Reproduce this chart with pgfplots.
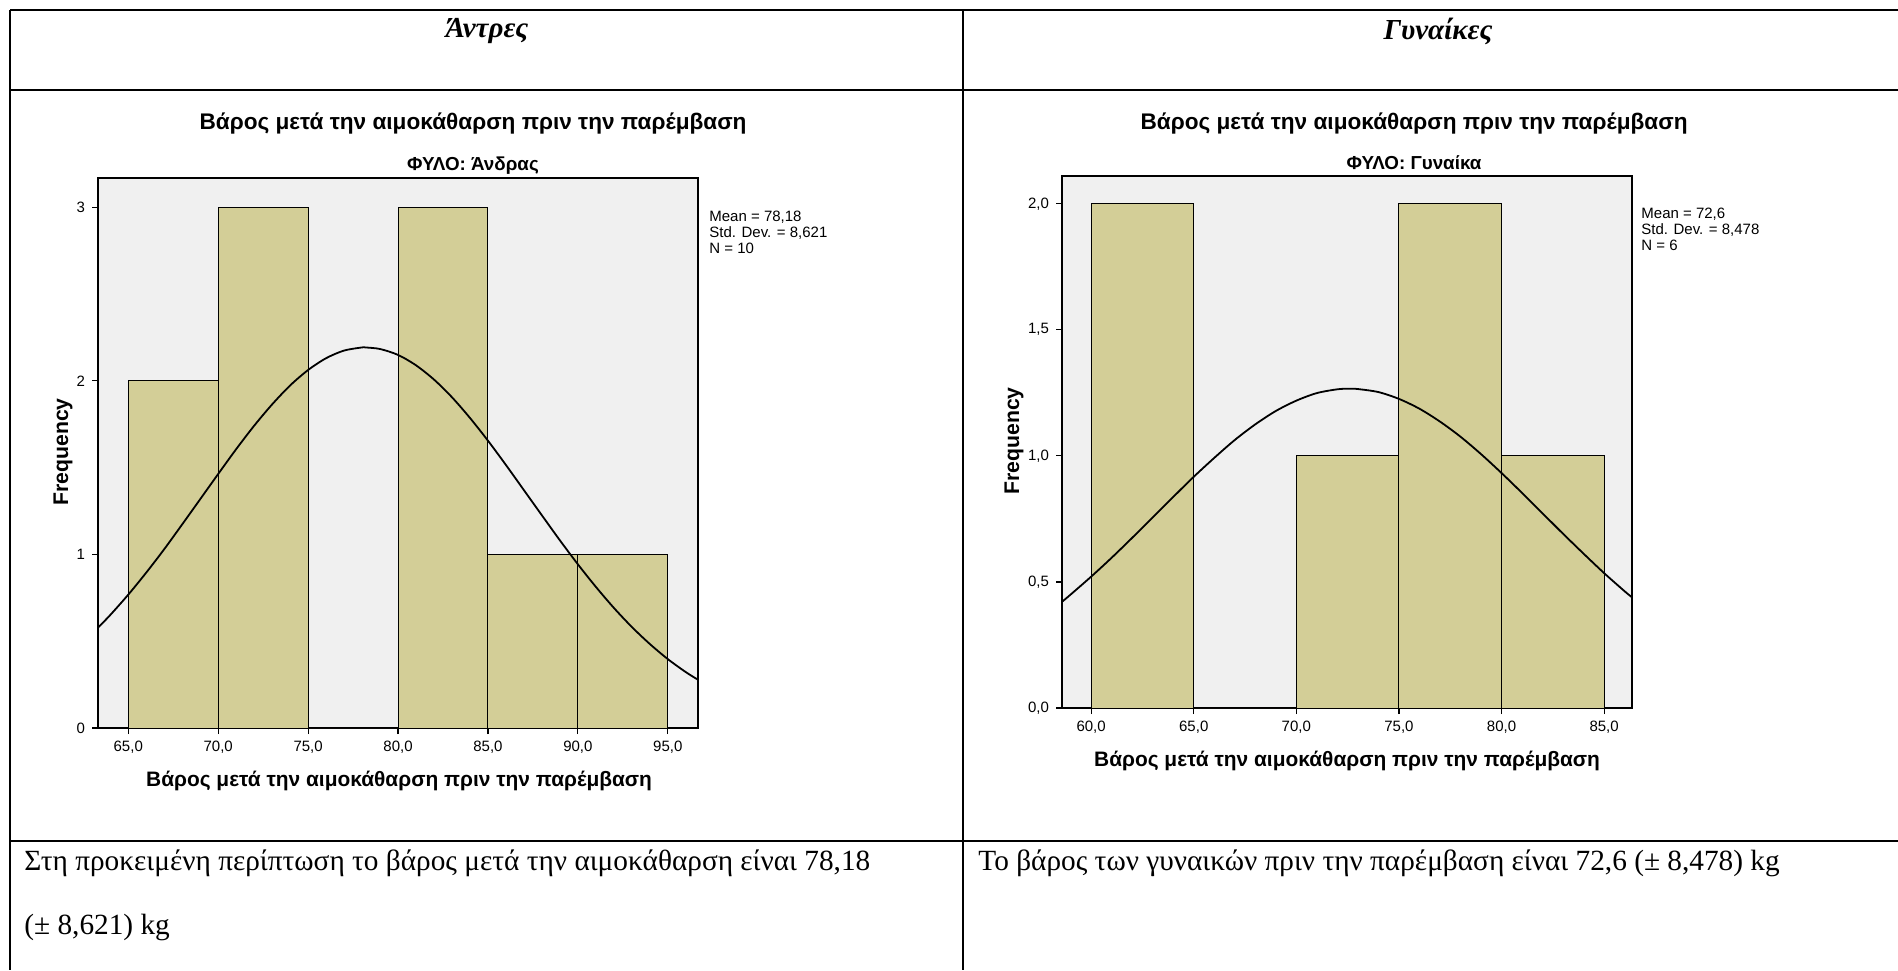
\documentclass[border=0pt]{standalone}
\usepackage{fontspec}
\setmainfont{Liberation Serif}
\setsansfont{Liberation Sans}
\usepackage{pgfplots}
\pgfplotsset{compat=1.18}

\definecolor{plotbg}{RGB}{240,240,240}
\definecolor{barfill}{RGB}{211,206,151}

% page coordinates: 1 unit = 0.5pt, origin top left, y downwards
\newcommand{\px}[2]{({#1*0.5pt},{(970-#2)*0.5pt})}
\newcommand{\fs}[1]{\fontsize{#1}{#1}\selectfont}

\pgfplotsset{
  histo/.style={
    scale only axis, anchor=south west,
    axis background/.style={fill=plotbg},
    tick align=outside, tick pos=left,
    major tick length=3pt,
    axis line style={black, line width=0.6pt},
    every tick/.style={black, line width=0.6pt},
    tick label style={font=\sffamily\fs{7.5}},
    ymin=0,
  },
  bars/.style={ybar interval, fill=barfill, draw=black, line width=0.5pt},
  fit/.style={smooth, black, line width=0.9pt},
}

\begin{document}
\begin{tikzpicture}
\path[use as bounding box] (0,0) rectangle (949pt,485pt);

% table grid
\begin{scope}[line width=1pt]
\draw \px{10}{10} -- \px{1898}{10};
\draw \px{10}{90} -- \px{1898}{90};
\draw \px{10}{841} -- \px{1898}{841};
\draw \px{10}{10} -- \px{10}{970};
\draw \px{963}{10} -- \px{963}{970};
\end{scope}

\node[font=\bfseries\itshape\fs{14.5}] at \px{487}{31} {Άντρες};
\node[font=\bfseries\itshape\fs{14.5}] at \px{1438}{31} {Γυναίκες};

\node[anchor=west, font=\fs{14.65}, inner sep=0pt] at \px{24}{863}
  {Στη προκειμένη περίπτωση το βάρος μετά την αιμοκάθαρση είναι 78,18};
\node[anchor=west, font=\fs{14.65}, inner sep=0pt] at \px{24}{927}
  {(± 8,621) kg};
\node[anchor=west, font=\fs{14.65}, inner sep=0pt] at \px{978}{863}
  {Το βάρος των γυναικών πριν την παρέμβαση είναι 72,6 (± 8,478) kg};

% ---- men ----
\begin{axis}[histo, at={(49pt,121pt)}, width=300pt, height=275pt,
  xmin=63.318, xmax=96.68, ymax=3.168,
  xtick={65,70,75,80,85,90,95},
  xticklabels={{65,0},{70,0},{75,0},{80,0},{85,0},{90,0},{95,0}},
  ytick={0,1,2,3}, yticklabels={0,1,2,3}]
\addplot[bars] coordinates {(65,2) (70,3) (75,0) (80,3) (85,1) (90,1) (95,1)};
\addplot[fit] coordinates {
(63.32,0.578) (64,0.651) (65,0.768) (66,0.895) (67,1.030) (68,1.173)
(69,1.318) (70,1.463) (71,1.606) (72,1.741) (73,1.864) (74,1.973)
(75,2.062) (76,2.130) (77,2.174) (78,2.192) (78.18,2.192) (79,2.183)
(80,2.149) (81,2.089) (82,2.007) (83,1.905) (84,1.786) (85,1.655)
(86,1.515) (87,1.370) (88,1.225) (89,1.081) (90,0.943) (91,0.813)
(92,0.692) (93,0.582) (94,0.484) (95,0.397) (96,0.322) (96.68,0.278)};
\end{axis}

\node[font=\sffamily\bfseries\fs{11.3}] at \px{473}{124}
  {Βάρος μετά την αιμοκάθαρση πριν την παρέμβαση};
\node[font=\sffamily\bfseries\fs{9.4}] at \px{473}{166} {ΦΥΛΟ: Άνδρας};
\node[font=\sffamily\bfseries\fs{10.45}] at \px{399}{781}
  {Βάρος μετά την αιμοκάθαρση πριν την παρέμβαση};
\node[font=\sffamily\bfseries\fs{10.6}, rotate=90] at \px{63}{452} {Frequency};
\node[anchor=north west, align=left, inner sep=0pt,
  font=\sffamily\fontsize{7.5}{7.9}\selectfont] at \px{709}{211}
  {Mean = 78,18\\Std. Dev. = 8,621\\N = 10};

% ---- women ----
\begin{axis}[histo, at={(531pt,131pt)}, width=285pt, height=266pt,
  xmin=58.58, xmax=86.36, ymax=2.11,
  xtick={60,65,70,75,80,85},
  xticklabels={{60,0},{65,0},{70,0},{75,0},{80,0},{85,0}},
  ytick={0,0.5,1,1.5,2}, yticklabels={{0,0},{0,5},{1,0},{1,5},{2,0}}]
\addplot[bars] coordinates {(60,2) (65,0) (70,1) (75,2) (80,1) (85,1)};
\addplot[fit] coordinates {
(58.58,0.421) (59,0.450) (60,0.521) (61,0.596) (62,0.675) (63,0.756)
(64,0.837) (65,0.917) (66,0.992) (67,1.063) (68,1.125) (69,1.178)
(70,1.219) (71,1.249) (72,1.264) (72.6,1.2665) (73,1.265) (74,1.253)
(75,1.226) (76,1.187) (77,1.136) (78,1.076) (79,1.007) (80,0.932)
(81,0.853) (82,0.772) (83,0.691) (84,0.612) (85,0.535) (86,0.463)
(86.36,0.439)};
\end{axis}

\node[font=\sffamily\bfseries\fs{11.3}] at \px{1414}{124}
  {Βάρος μετά την αιμοκάθαρση πριν την παρέμβαση};
\node[font=\sffamily\bfseries\fs{9.4}] at \px{1414}{163} {ΦΥΛΟ: Γυναίκα};
\node[font=\sffamily\bfseries\fs{10.45}] at \px{1347}{761}
  {Βάρος μετά την αιμοκάθαρση πριν την παρέμβαση};
\node[font=\sffamily\bfseries\fs{10.6}, rotate=90] at \px{1014}{441} {Frequency};
\node[anchor=north west, align=left, inner sep=0pt,
  font=\sffamily\fontsize{7.5}{7.9}\selectfont] at \px{1641}{208}
  {Mean = 72,6\\Std. Dev. = 8,478\\N = 6};
\end{tikzpicture}
\end{document}
